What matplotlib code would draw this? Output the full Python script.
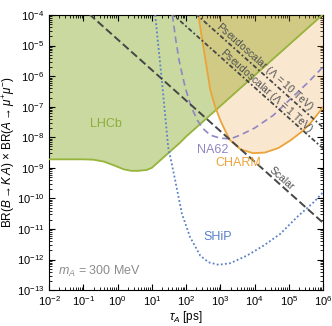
import numpy as np
import matplotlib
matplotlib.use("Agg")
import matplotlib.pyplot as plt

plt.rcParams['font.family'] = ['Liberation Sans', 'DejaVu Sans']
plt.rcParams['mathtext.fontset'] = 'custom'
plt.rcParams['mathtext.rm'] = 'Liberation Sans'
plt.rcParams['mathtext.it'] = 'Liberation Sans:italic'
plt.rcParams['mathtext.bf'] = 'Liberation Sans:bold'

# LHCb exclusion (lower boundary), tau in ps
lhcb_tau = [1e-2, 0.1, 0.2, 0.4, 0.8, 1.5, 2.5, 4, 7, 10, 15, 25, 40, 70, 1e2, 1e3, 1e4, 1e5, 1e6]
lhcb_br = [1.9e-9, 1.9e-9, 1.85e-9, 1.6e-9, 1.2e-9, 9e-10, 8e-10, 8e-10, 8.5e-10, 1.0e-9,
           1.5e-9, 2.5e-9, 4.0e-9, 7e-9, 1.05e-8, 1.05e-7, 1.05e-6, 1.05e-5, 1.05e-4]

# CHARM (log10 values)
charm_logtau = [2.36, 2.5, 2.71, 2.85, 3.0, 3.15, 3.29, 3.6, 3.96, 4.3, 4.7, 5.05, 5.4, 5.63, 6.0]
charm_logbr = [-4.0, -5.0, -6.46, -7.0, -7.44, -7.8, -8.1, -8.4, -8.52, -8.5, -8.35, -8.1, -7.8, -7.54, -7.02]

# NA62 (log10 values)
na62_logtau = [1.6, 1.7, 1.8, 1.98, 2.15, 2.33, 2.5, 2.71, 3.0, 3.3, 3.58, 4.0, 4.55, 5.0, 5.54, 6.0]
na62_logbr = [-4.0, -4.8, -5.5, -6.39, -7.0, -7.44, -7.72, -7.93, -8.03, -8.05, -7.93, -7.7, -7.28, -6.8, -6.23, -5.7]

# SHiP (log10 values)
ship_logtau = [1.1, 1.3, 1.48, 1.6, 1.684, 1.88, 2.12, 2.415, 2.66, 2.95, 3.29, 3.78, 4.27, 4.75, 5.24, 5.73, 6.0]
ship_logbr = [-4.0, -6.2, -8.33, -8.95, -9.41, -10.5, -11.27, -11.87, -12.09, -12.17, -12.12, -11.87,
              -11.54, -11.16, -10.61, -10.12, -9.8]

# theory lines: BR = c / tau
tau_line = [1e-2, 1e6]
scalar_c = 1.6e-5
pseudo1_c = 4.3e-3
pseudo10_c = 2.1e-2

fig = plt.figure(figsize=(3.32, 3.26), dpi=100)
ax = fig.add_axes([0.1476, 0.11, 0.8254, 0.844])

ax.fill_between(lhcb_tau, lhcb_br, 1, color='#c9d9a0', lw=0, zorder=1)
ax.plot(lhcb_tau, lhcb_br, color='#97b43c', lw=1.3, zorder=4)

charm_tau = 10 ** np.array(charm_logtau)
charm_br = 10 ** np.array(charm_logbr)
ax.fill_between(charm_tau, charm_br, 1, color='#eb9628', alpha=0.22, lw=0, zorder=2)
ax.plot(charm_tau, charm_br, color='#eba43a', lw=1.3, zorder=5)

ax.plot(10 ** np.array(na62_logtau), 10 ** np.array(na62_logbr), color='#8f86c4',
        lw=1.2, ls=(0, (4, 2.5)), zorder=5)
ax.plot(10 ** np.array(ship_logtau), 10 ** np.array(ship_logbr), color='#5a80c6',
        lw=1.3, ls=(0, (1, 1.3)), zorder=5)

tl = np.array(tau_line)
ax.plot(tl, scalar_c / tl, color='#464646', lw=1.4, ls=(0, (4, 1.8)), zorder=6)
ax.plot(tl, pseudo1_c / tl, color='#464646', lw=1.3, ls=(0, (2.5, 1.3, 1, 1.3)), zorder=6)
ax.plot(tl, pseudo10_c / tl, color='#464646', lw=1.3, ls=(0, (2.5, 1.3, 1, 1.3)), zorder=6)

ax.set_xscale('log')
ax.set_yscale('log')
ax.set_xlim(1e-2, 1e6)
ax.set_ylim(1e-13, 1e-4)
ax.set_xticks([10.0 ** k for k in range(-2, 7)])
ax.set_yticks([10.0 ** k for k in range(-13, -3)])
ax.tick_params(which='both', direction='in', top=True, right=True, labelsize=8)
ax.tick_params(axis='x', pad=3)
ax.tick_params(which='major', length=4, width=0.8)
ax.tick_params(which='minor', length=2, width=0.6)
ax.xaxis.set_minor_locator(matplotlib.ticker.LogLocator(base=10, subs=np.arange(2, 10), numticks=20))
ax.yaxis.set_minor_locator(matplotlib.ticker.LogLocator(base=10, subs=np.arange(2, 10), numticks=20))
ax.xaxis.set_minor_formatter(matplotlib.ticker.NullFormatter())
ax.yaxis.set_minor_formatter(matplotlib.ticker.NullFormatter())

ax.set_xlabel(r'$\tau_A$ [ps]', fontsize=8.5, labelpad=1)
ax.set_ylabel(r'BR($B \to K\,A$) $\times$ BR($A \to \mu^{+}\mu^{-}$)', fontsize=8.5, labelpad=0)

ax.text(10 ** -0.33, 10 ** -7.57, 'LHCb', color='#8fad3a', fontsize=9, ha='center', va='center', zorder=7)
ax.text(10 ** 2.77, 10 ** -8.43, 'NA62', color='#8f86c4', fontsize=9, ha='center', va='center', zorder=7)
ax.text(10 ** 3.53, 10 ** -8.85, 'CHARM', color='#eba43a', fontsize=9, ha='center', va='center', zorder=7)
ax.text(10 ** 2.94, 10 ** -11.25, 'SHiP', color='#5a80c6', fontsize=9, ha='center', va='center', zorder=7)
ax.text(10 ** -1.74, 10 ** -12.39, r'$m_A$ = 300 MeV', color='#8c8c8c', fontsize=9, ha='left', va='center', zorder=7)

ang = -41.7
ax.text(10 ** 4.78, 10 ** -9.34, 'Scalar', color='#505050', fontsize=7.5, rotation=ang,
        ha='center', va='center', rotation_mode='anchor', zorder=7)
ax.text(10 ** 4.29, 10 ** -5.7, r'Pseudoscalar ($\Lambda$ = 10 TeV)', color='#505050', fontsize=7.5,
        rotation=ang, ha='center', va='center', rotation_mode='anchor', zorder=7)
ax.text(10 ** 4.35, 10 ** -6.49, r'Pseudoscalar ($\Lambda$ = 1 TeV)', color='#505050', fontsize=7.5,
        rotation=ang, ha='center', va='center', rotation_mode='anchor', zorder=7)

fig.savefig('out.png', dpi=100)
